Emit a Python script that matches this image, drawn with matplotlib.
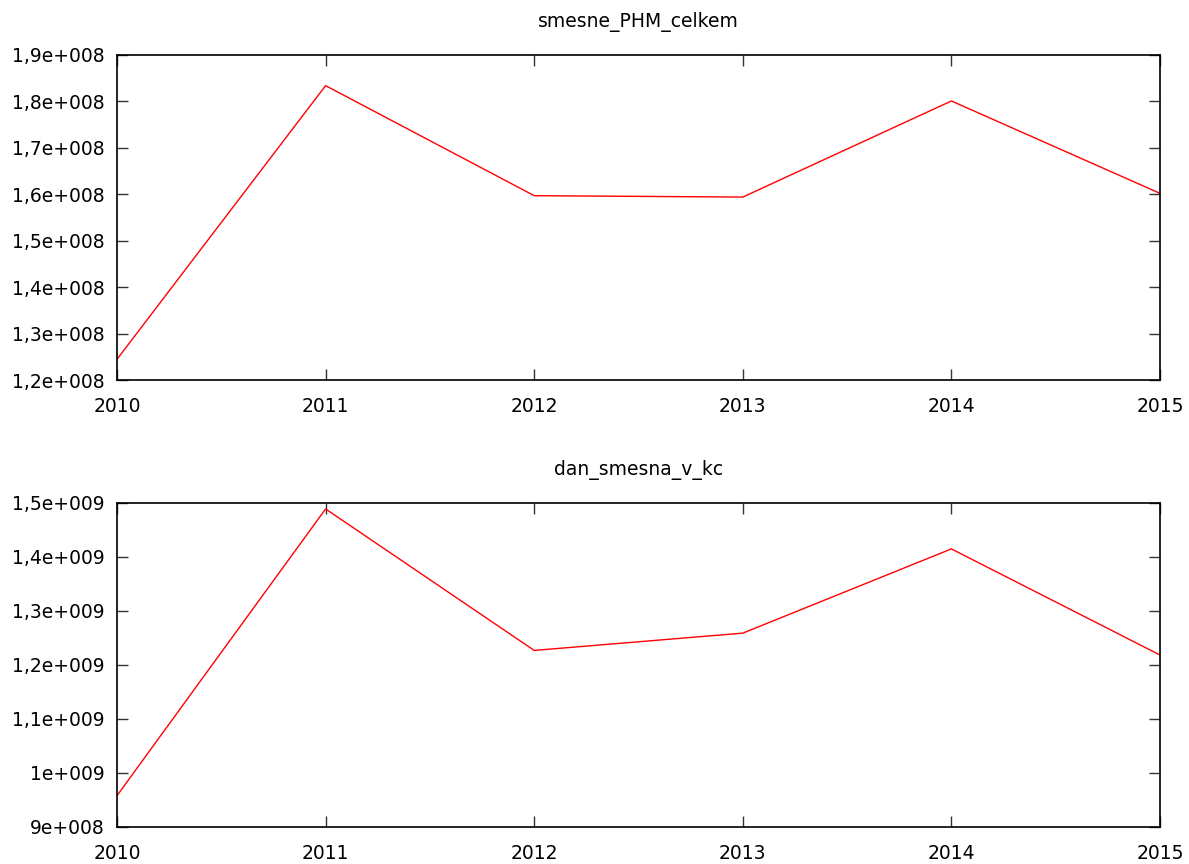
import matplotlib
matplotlib.use("Agg")
import matplotlib.pyplot as plt
from matplotlib.ticker import FuncFormatter, MultipleLocator

years = [2010, 2011, 2012, 2013, 2014, 2015]
smesne_PHM_celkem = [1.2446e8, 1.834e8, 1.597e8, 1.594e8, 1.801e8, 1.602e8]
dan_smesna_v_kc = [9.58e8, 1.489e9, 1.227e9, 1.259e9, 1.415e9, 1.2185e9]

titles = ["smesne_PHM_celkem", "dan_smesna_v_kc"]
ylims = [(1.2e8, 1.9e8), (9e8, 1.5e9)]
ysteps = [1e7, 1e8]


def gnu_fmt(v, pos):
    if v == 0:
        return "0"
    mant, exp = ("%e" % v).split("e")
    m = float(mant)
    e = int(exp)
    ms = ("%g" % round(m, 6)).replace(".", ",")
    return "%se+%03d" % (ms, e)


fig = plt.figure(figsize=(11.89, 8.64), dpi=100)
positions = [[117 / 1189, 1 - 380 / 864, (1160 - 117) / 1189, 325 / 864],
             [117 / 1189, 1 - 827 / 864, (1160 - 117) / 1189, 324 / 864]]
series = [smesne_PHM_celkem, dan_smesna_v_kc]

for i in range(2):
    ax = fig.add_axes(positions[i])
    ax.plot(years, series[i], color="red", linewidth=1.0)
    ax.set_xlim(2010, 2015)
    ax.set_ylim(*ylims[i])
    ax.set_xticks(years)
    ax.yaxis.set_major_locator(MultipleLocator(ysteps[i]))
    ax.yaxis.set_major_formatter(FuncFormatter(gnu_fmt))
    ax.tick_params(direction="in", length=8, width=1, color="#333333",
                   top=True, right=True, labelsize=13.5, pad=9)
    ax.tick_params(axis="x", pad=12.5)
    for sp in ax.spines.values():
        sp.set_linewidth(1.2)
    ax.set_title(titles[i], fontsize=13.5, pad=20)

fig.savefig("out.png", dpi=100)
